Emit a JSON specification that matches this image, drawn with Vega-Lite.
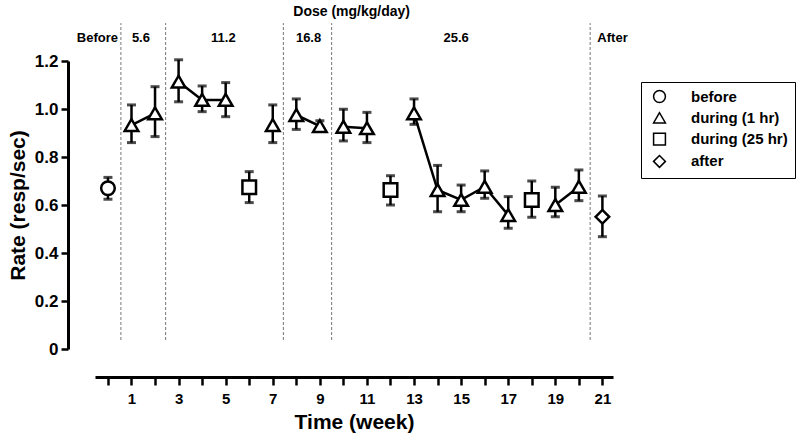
{
  "$schema": "https://vega.github.io/schema/vega-lite/v6.json",
  "width": 518,
  "height": 288,
  "autosize": {"type": "none"},
  "padding": {"left": 95, "top": 61, "right": 187, "bottom": 91},
  "background": "white",
  "config": {
    "view": {"stroke": null},
    "font": "Liberation Sans"
  },
  "datasets": {
    "main": [
      {"week": 0, "rate": 0.67, "lo": 0.624, "hi": 0.715, "type": "before", "seg": null},
      {"week": 1, "rate": 0.933, "lo": 0.86, "hi": 1.017, "type": "during (1 hr)", "seg": "a"},
      {"week": 2, "rate": 0.982, "lo": 0.885, "hi": 1.093, "type": "during (1 hr)", "seg": "a"},
      {"week": 3, "rate": 1.114, "lo": 1.03, "hi": 1.205, "type": "during (1 hr)", "seg": "b"},
      {"week": 4, "rate": 1.038, "lo": 0.989, "hi": 1.096, "type": "during (1 hr)", "seg": "b"},
      {"week": 5, "rate": 1.038, "lo": 0.968, "hi": 1.11, "type": "during (1 hr)", "seg": "b"},
      {"week": 6, "rate": 0.674, "lo": 0.61, "hi": 0.739, "type": "during (25 hr)", "seg": null},
      {"week": 7, "rate": 0.933, "lo": 0.86, "hi": 1.017, "type": "during (1 hr)", "seg": null},
      {"week": 8, "rate": 0.975, "lo": 0.915, "hi": 1.042, "type": "during (1 hr)", "seg": "c"},
      {"week": 9, "rate": 0.929, "lo": 0.91, "hi": 0.951, "type": "during (1 hr)", "seg": "c"},
      {"week": 10, "rate": 0.926, "lo": 0.867, "hi": 0.999, "type": "during (1 hr)", "seg": "d"},
      {"week": 11, "rate": 0.92, "lo": 0.86, "hi": 0.986, "type": "during (1 hr)", "seg": "d"},
      {"week": 12, "rate": 0.6625, "lo": 0.6, "hi": 0.722, "type": "during (25 hr)", "seg": null},
      {"week": 13, "rate": 0.982, "lo": 0.936, "hi": 1.042, "type": "during (1 hr)", "seg": "e"},
      {"week": 14, "rate": 0.6625, "lo": 0.572, "hi": 0.765, "type": "during (1 hr)", "seg": "e"},
      {"week": 15, "rate": 0.621, "lo": 0.572, "hi": 0.683, "type": "during (1 hr)", "seg": "e"},
      {"week": 16, "rate": 0.676, "lo": 0.628, "hi": 0.742, "type": "during (1 hr)", "seg": "e"},
      {"week": 17, "rate": 0.558, "lo": 0.503, "hi": 0.635, "type": "during (1 hr)", "seg": "e"},
      {"week": 18, "rate": 0.621, "lo": 0.549, "hi": 0.7, "type": "during (25 hr)", "seg": null},
      {"week": 19, "rate": 0.6, "lo": 0.551, "hi": 0.674, "type": "during (1 hr)", "seg": "f"},
      {"week": 20, "rate": 0.676, "lo": 0.618, "hi": 0.746, "type": "during (1 hr)", "seg": "f"},
      {"week": 21, "rate": 0.551, "lo": 0.468, "hi": 0.6375, "type": "after", "seg": null}
    ],
    "dividers": [
      {"x": 0.55}, {"x": 2.45}, {"x": 7.45}, {"x": 9.5}, {"x": 20.48}
    ],
    "labels": [
      {"x": -0.45, "label": "Before"},
      {"x": 1.4, "label": "5.6"},
      {"x": 4.9, "label": "11.2"},
      {"x": 8.52, "label": "16.8"},
      {"x": 14.79, "label": "25.6"},
      {"x": 21.43, "label": "After"}
    ]
  },
  "layer": [
    {
      "data": {"name": "dividers"},
      "mark": {"type": "rule", "color": "#777777", "strokeWidth": 1, "strokeDash": [3, 2]},
      "encoding": {
        "x": {
          "field": "x", "type": "quantitative",
          "scale": {"domain": [-0.55, 21.45], "nice": false, "zero": false},
          "axis": {
            "title": "Time (week)",
            "values": [0,1,2,3,4,5,6,7,8,9,10,11,12,13,14,15,16,17,18,19,20,21],
            "tickCount": 22,
            "labelExpr": "indexof(['1','3','5','7','9','11','13','15','17','19','21'], '' + datum.value) >= 0 ? '' + datum.value : ''",
            "labelOverlap": false,
            "labelFlush": false,
            "offset": 28,
            "grid": false,
            "domainColor": "black", "domainWidth": 3,
            "tickColor": "black", "tickWidth": 2.5, "tickSize": 8,
            "labelFont": "Liberation Sans", "labelFontSize": 15, "labelFontWeight": "bold", "labelColor": "black", "labelPadding": 6,
            "titleFont": "Liberation Sans", "titleFontSize": 21, "titleFontWeight": "bold", "titleColor": "black", "titlePadding": 5
          }
        },
        "y": {
          "datum": 0.0375, "type": "quantitative",
          "scale": {"domain": [0, 1.2], "nice": false},
          "axis": {
            "title": "Rate (resp/sec)",
            "values": [0, 0.2, 0.4, 0.6, 0.8, 1.0, 1.2],
            "tickCount": 7,
            "labelExpr": "datum.value == 0 ? '0' : format(datum.value, '.1f')",
            "labelOverlap": false,
            "offset": 27,
            "grid": false,
            "domainColor": "black", "domainWidth": 3,
            "tickColor": "black", "tickWidth": 2.5, "tickSize": 7,
            "labelFont": "Liberation Sans", "labelFontSize": 17, "labelFontWeight": "bold", "labelColor": "black", "labelPadding": 3,
            "titleFont": "Liberation Sans", "titleFontSize": 21, "titleFontWeight": "bold", "titleColor": "black", "titlePadding": 6
          }
        },
        "y2": {"datum": 1.358}
      }
    },
    {
      "data": {"name": "labels"},
      "mark": {"type": "text", "fontSize": 13, "fontWeight": "bold", "color": "black", "baseline": "middle", "align": "center"},
      "encoding": {
        "x": {"field": "x", "type": "quantitative", "title": "Time (week)"},
        "y": {"datum": 1.296, "type": "quantitative", "title": "Rate (resp/sec)"},
        "text": {"field": "label"}
      }
    },
    {
      "data": {"values": [{"x": 10.35, "t": "Dose (mg/kg/day)"}]},
      "mark": {"type": "text", "fontSize": 14, "fontWeight": "bold", "color": "black", "baseline": "middle", "align": "center"},
      "encoding": {
        "x": {"field": "x", "type": "quantitative", "title": "Time (week)"},
        "y": {"datum": 1.404, "type": "quantitative", "title": "Rate (resp/sec)"},
        "text": {"field": "t"}
      }
    },
    {
      "data": {"name": "main"},
      "transform": [{"filter": "datum.seg != null"}],
      "mark": {"type": "line", "color": "black", "strokeWidth": 2.5},
      "encoding": {
        "x": {"field": "week", "type": "quantitative", "title": "Time (week)"},
        "y": {"field": "rate", "type": "quantitative", "title": "Rate (resp/sec)"},
        "detail": {"field": "seg"}
      }
    },
    {
      "data": {"name": "main"},
      "mark": {"type": "errorbar", "color": "black", "thickness": 2.5, "ticks": {"size": 9, "thickness": 3, "color": "black"}},
      "encoding": {
        "x": {"field": "week", "type": "quantitative", "title": "Time (week)"},
        "y": {"field": "lo", "type": "quantitative", "title": "Rate (resp/sec)"},
        "y2": {"field": "hi"}
      }
    },
    {
      "data": {"name": "main"},
      "mark": {"type": "point", "filled": true, "fill": "white", "stroke": "black", "strokeWidth": 2.5, "size": 185, "opacity": 1},
      "encoding": {
        "x": {"field": "week", "type": "quantitative", "title": "Time (week)"},
        "y": {"field": "rate", "type": "quantitative", "title": "Rate (resp/sec)"},
        "shape": {
          "field": "type", "type": "nominal",
          "scale": {
            "domain": ["before", "during (1 hr)", "during (25 hr)", "after"],
            "range": ["circle", "triangle-up", "square", "diamond"]
          },
          "legend": {
            "title": null,
            "orient": "none",
            "legendX": 546,
            "legendY": 21,
            "strokeColor": "black",
            "fillColor": "white",
            "padding": 7,
            "rowPadding": 3.3,
            "symbolSize": 140,
            "symbolOffset": 4,
            "labelOffset": 24,
            "labelFont": "Liberation Sans",
            "labelFontSize": 15,
            "labelFontWeight": "bold",
            "labelColor": "black",
            "labelLimit": 200,
            "encode": {
              "legend": {"update": {"strokeWidth": {"value": 1.5}}},
              "symbols": {"update": {
                "fill": {"value": "white"},
                "stroke": {"value": "black"},
                "strokeWidth": {"value": 2.5},
                "opacity": {"value": 1}
              }}
            }
          }
        }
      }
    }
  ]
}
